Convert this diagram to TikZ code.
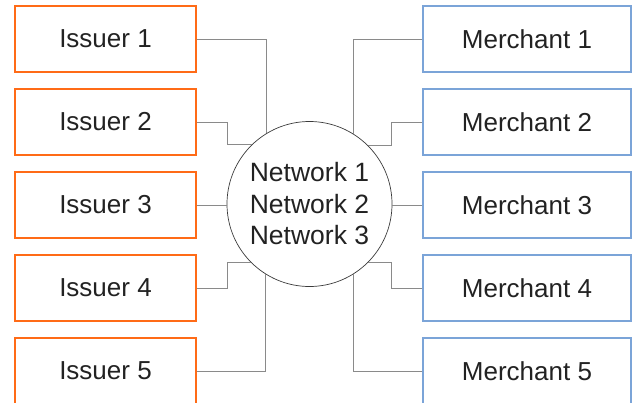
\documentclass[tikz,border=0pt]{standalone}
\usepackage{fontspec}
\setmainfont{Liberation Sans}
\definecolor{issuerorange}{HTML}{FF6B17}
\definecolor{merchantblue}{HTML}{7BA4D8}
\definecolor{linkgray}{HTML}{8A8A8A}
\definecolor{ringgray}{HTML}{3A3A3A}
\definecolor{labelgray}{HTML}{222222}
\begin{document}
\begin{tikzpicture}[x=1pt,y=-1pt,
  party/.style={draw,line width=1.2pt,minimum width=181pt,minimum height=66pt,
    inner sep=0pt,font=\fontsize{26}{30}\selectfont,text=labelgray},
  issuer/.style={party,draw=issuerorange},
  merchant/.style={party,draw=merchantblue,minimum width=208pt},
  hub/.style={circle,draw=ringgray,line width=0.7pt,minimum size=165pt,inner sep=0pt,
    align=center,font=\fontsize{26.5}{31.5}\selectfont,text=labelgray},
  link/.style={draw=linkgray,line width=0.9pt}]
\useasboundingbox (0,0) rectangle (632,402);
\clip (0,0) rectangle (632,402);

% the hub
\node[hub] (net) at (309.5,204) {Network 1\\Network 2\\Network 3};

% the two columns of parties
\foreach \i/\y in {1/39,2/122,3/205,4/288,5/371}{
  \node[issuer] (iss\i) at (105.5,\y) {Issuer \i};
  \node[merchant] (mer\i) at (527,\y) {Merchant \i};
}

% issuer side links
\draw[link] (iss1.east) -| (net.121.8);
\draw[link] (iss2.east) -- ++(31,0) |- (net.134.4);
\draw[link] (iss3.east) -- (iss3.east -| net.west);
\draw[link] (iss4.east) -- ++(31,0) |- (net.225.6);
\draw[link] (iss5.east) -| (net.238.2);

% merchant side links
\draw[link] (mer1.west) -| (net.58.2);
\draw[link] (mer2.west) -- ++(-31,0) |- (net.45.6);
\draw[link] (mer3.west) -- (mer3.west -| net.east);
\draw[link] (mer4.west) -- ++(-31,0) |- (net.-45.6);
\draw[link] (mer5.west) -| (net.-58.2);
\end{tikzpicture}
\end{document}
